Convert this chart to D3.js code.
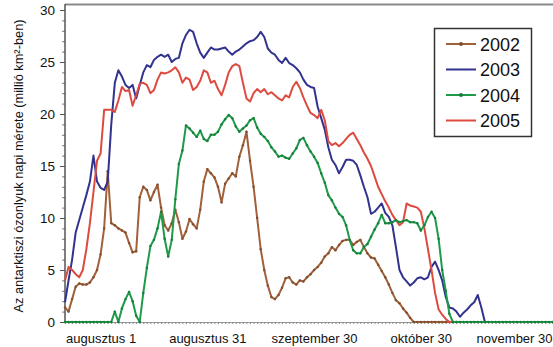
<!DOCTYPE html>
<html>
<head>
<meta charset="utf-8">
<script src="https://cdn.jsdelivr.net/npm/d3@7"></script>
<style>
  body { margin: 0; background: #fff; }
  svg { display: block; }
  text { font-family: "Liberation Sans", Arial, sans-serif; fill: #111; }
</style>
</head>
<body>
<svg id="chart" width="553" height="347"></svg>
<script>
// Daily ozone-hole area (million km²); day 0 = augusztus 1, series start at day -10 (július 22)
const firstDay = -10;
const lastDay = 127;

const area2002 = [
  1.4, 1.0, 2.2, 3.4, 3.7, 3.6, 3.6, 3.8, 4.3, 5.0,
  6.5, 9.0, 14.5, 9.5, 9.3, 9.0, 8.8, 8.6, 7.6, 6.7,
  6.8, 12.0, 13.0, 12.7, 11.7, 12.5, 13.2, 11.0, 9.3, 8.8,
  9.5, 10.8, 9.6, 8.0, 8.7, 9.9, 9.4, 9.0, 10.8, 13.5,
  14.7, 14.3, 13.9, 13.0, 11.5, 13.3, 13.8, 14.3, 14.0, 15.9,
  17.0, 18.3, 15.5, 13.0, 10.0, 7.0, 5.0, 3.5, 2.4, 2.2,
  2.6, 3.3, 4.2, 4.3, 3.8, 3.6, 4.0, 3.9, 4.3, 4.6,
  5.0, 5.3, 5.7, 6.3, 6.6, 7.2, 6.9, 7.4, 7.8, 7.9,
  7.9, 7.4, 7.7, 7.9, 7.2, 6.6, 6.2, 6.1, 5.5, 4.9,
  4.3, 3.6, 2.8, 2.1, 1.8, 1.3, 0.9, 0.4, 0, 0,
  0, 0, 0, 0, 0, 0, 0, 0, 0, 0, 0
];

const area2003 = [
  1.9, 4.0, 6.0, 8.6, 9.8, 11.0, 12.2, 13.5, 16.0, 13.5,
  12.9, 12.7, 13.5, 19.0, 23.0, 24.2, 23.6, 22.8, 22.5, 22.8,
  21.5, 22.8, 24.0, 24.7, 24.5, 25.2, 25.5, 25.7, 25.5, 25.7,
  25.0, 25.3, 25.4, 26.8, 27.6, 28.1, 27.9, 26.8, 25.9, 25.4,
  25.9, 26.4, 26.2, 26.2, 26.3, 26.4, 26.0, 25.7, 26.0, 26.2,
  26.5, 26.8, 27.0, 27.1, 27.4, 27.9, 27.4, 26.3, 25.9, 25.7,
  25.2, 24.9, 25.4, 24.9, 24.7, 24.4, 24.0, 23.3, 22.8, 22.6,
  22.5, 20.7, 19.6, 18.5, 16.8, 15.6, 15.1, 14.3, 14.9, 15.6,
  15.6, 15.5, 15.1, 14.1, 13.0, 12.0, 10.4, 10.6, 11.0, 11.4,
  10.5, 10.1, 9.3, 7.2, 5.0, 4.3, 3.9, 3.5, 3.8, 4.2,
  4.3, 4.1, 4.3, 5.3, 5.8, 5.0, 4.0, 2.4, 1.4, 1.3,
  1.0, 0.5, 0.9, 1.2, 1.6, 1.9, 2.6, 1.4, 0, 0,
  0, 0, 0, 0, 0, 0, 0, 0, 0, 0,
  0, 0, 0, 0, 0, 0, 0, 0
];

const area2004 = [
  0, 0, 0, 0, 0, 0, 0, 0, 0, 0,
  0, 0, 0, 0, 1.0, 0, 1.3, 2.2, 2.9, 2.0,
  0.6, 0, 2.8, 5.2, 7.3, 7.9, 9.0, 10.6, 8.0, 6.3,
  7.9, 11.8, 15.2, 16.5, 18.9, 18.6, 18.2, 17.8, 18.4, 17.6,
  17.4, 18.0, 18.0, 18.3, 19.0, 19.5, 19.9, 19.6, 18.8, 18.3,
  18.6, 18.9, 19.4, 19.6, 18.7, 18.1, 17.8, 17.4, 16.8, 16.4,
  15.9, 16.0, 15.8, 15.7, 16.2, 16.7, 17.5, 17.7, 17.0, 16.4,
  15.9, 15.3, 14.3, 13.4, 12.2, 11.7, 11.0, 10.4, 10.1, 9.3,
  7.9, 6.9, 6.6, 6.6, 7.2, 7.5, 8.2, 8.9, 9.5, 10.3,
  9.5, 9.5, 9.6, 9.8, 9.6, 9.7, 9.8, 9.6, 9.6, 9.5,
  8.8, 9.3, 10.1, 10.6, 10.0, 8.0, 5.0, 3.0, 0.8, 0,
  0, 0, 0, 0, 0, 0, 0, 0, 0, 0,
  0, 0, 0, 0, 0, 0, 0, 0, 0, 0,
  0, 0, 0, 0, 0, 0, 0, 0
];

const area2005 = [
  4.0, 5.3, 5.0, 4.6, 4.3, 5.0, 7.0, 9.5, 12.5, 15.5,
  16.2, 20.4, 20.4, 20.4, 20.2, 21.3, 22.6, 22.2, 22.3, 20.8,
  21.8, 22.9, 23.0, 22.8, 22.0, 22.3, 23.3, 24.0, 23.9, 24.0,
  24.2, 24.5, 24.0, 23.0, 23.5, 23.3, 22.3, 22.6, 23.2, 24.2,
  24.0, 23.0, 23.2, 22.4, 21.8, 22.8, 24.0, 24.6, 24.8, 24.6,
  23.0, 21.5, 21.2, 22.0, 22.4, 22.1, 22.4, 21.9, 22.1, 21.8,
  21.5, 21.3, 21.8, 21.6, 22.6, 23.1, 22.5, 21.6, 20.8, 20.1,
  19.9, 19.6, 20.4, 19.4, 17.4, 17.0, 17.2, 16.9, 17.2, 17.6,
  18.0, 18.2, 17.6, 17.0, 16.3, 15.7, 15.0, 14.0, 13.0, 12.3,
  11.6, 11.0, 10.3, 9.8, 9.3, 9.6, 11.4, 11.2, 11.1, 11.0,
  10.6, 9.0, 7.0, 5.0, 2.8, 1.2, 0.7, 0.3, 0, 0,
  0
];

const seriesNames = ["2002", "2003", "2004", "2005"];
const seriesColors = ["#a0603a", "#32328f", "#1f9a49", "#dd4a3f"];
const seriesMarkers = [true, false, true, false];
const drawOrder = [0, 1, 3, 2];

const tickDays = [0, 30, 60, 90, 121];
const tickLabels = ["augusztus 1", "augusztus 31", "szeptember 30", "október 30", "november 30"];
const yTicks = [0, 5, 10, 15, 20, 25, 30];
const yTitle = "Az antarktiszi ózonlyuk napi mérete (millió km²-ben)";

const allSeries = [area2002, area2003, area2004, area2005];

const W = 553;
const svg = d3.select("#chart");
const x = d3.scaleLinear().domain([firstDay, lastDay]).range([65, 552.5]);
const y = d3.scaleLinear().domain([0, 30]).range([322, 10]);

// frame: top rule
svg.append("line")
  .attr("x1", 65).attr("x2", W).attr("y1", 4.5).attr("y2", 4.5)
  .attr("stroke", "#8a8a8a").attr("stroke-width", 2);

// x axis: daily minor ticks + labelled dates
const xMinor = svg.append("g").attr("transform", `translate(0,${y(0)})`)
  .call(d3.axisBottom(x).tickValues(d3.range(firstDay, lastDay + 1)).tickSize(2).tickFormat(""));
xMinor.select(".domain").attr("stroke", "#9a9a9a").attr("stroke-width", 1.2);
xMinor.selectAll(".tick line").attr("stroke", "#8a8a8a");

const xAxis = svg.append("g").attr("transform", `translate(0,${y(0)})`)
  .call(d3.axisBottom(x).tickValues(tickDays).tickSize(0).tickPadding(12)
    .tickFormat((d, i) => tickLabels[i]));
xAxis.select(".domain").remove();
xAxis.selectAll("text").style("font-size", "13px").attr("fill", "#111");
// keep labels near the right edge inside the drawing
xAxis.selectAll(".tick").each(function (d) {
  const t = d3.select(this).select("text");
  const half = t.node().getComputedTextLength() / 2;
  const overflow = x(d) + half - (W - 1);
  if (overflow > 0) t.attr("x", -overflow);
});

// y axis: unit minor ticks, major every 5
const yMinor = svg.append("g").attr("transform", "translate(65,0)")
  .call(d3.axisLeft(y).tickValues(d3.range(0, 31)).tickSize(3).tickFormat(""));
yMinor.select(".domain").remove();
yMinor.selectAll(".tick line").attr("stroke", "#777");

const yAxis = svg.append("g").attr("transform", "translate(65,0)")
  .call(d3.axisLeft(y).tickValues(yTicks).tickSize(5).tickPadding(5));
yAxis.select(".domain").remove();
yAxis.selectAll(".tick line").attr("stroke", "#555");
yAxis.selectAll("text").style("font-size", "13.5px").attr("fill", "#111");

svg.append("line")
  .attr("x1", 65).attr("x2", 65).attr("y1", 4).attr("y2", y(0) + 1)
  .attr("stroke", "#555").attr("stroke-width", 1.5);

svg.append("text")
  .attr("transform", `translate(23,${(y(0) + 10) / 2}) rotate(-90)`)
  .attr("text-anchor", "middle")
  .style("font-size", "12.8px")
  .text(yTitle);

// series lines
const line = d3.line()
  .x((d, i) => x(firstDay + i))
  .y(d => y(d));

drawOrder.forEach(k => {
  const data = allSeries[k];
  svg.append("path")
    .datum(data)
    .attr("fill", "none")
    .attr("stroke", seriesColors[k])
    .attr("stroke-width", 2)
    .attr("stroke-linejoin", "round")
    .attr("d", line);
  if (seriesMarkers[k]) {
    svg.append("g").selectAll("circle")
      .data(data)
      .join("circle")
      .attr("cx", (d, i) => x(firstDay + i))
      .attr("cy", d => y(d))
      .attr("r", 1.2)
      .attr("fill", d3.color(seriesColors[k]).darker(0.6));
  }
});

// legend
const legend = svg.append("g");
legend.append("rect")
  .attr("x", 434.5).attr("y", 28.5).attr("width", 97).attr("height", 108)
  .attr("fill", "#fff").attr("stroke", "#333").attr("stroke-width", 1.5);
seriesNames.forEach((name, i) => {
  const ly = 44 + i * 25.5;
  legend.append("line")
    .attr("x1", 446).attr("x2", 476).attr("y1", ly).attr("y2", ly)
    .attr("stroke", seriesColors[i]).attr("stroke-width", 2);
  if (seriesMarkers[i]) {
    legend.append("circle").attr("cx", 461).attr("cy", ly).attr("r", 2)
      .attr("fill", d3.color(seriesColors[i]).darker(0.6));
  }
  legend.append("text")
    .attr("x", 480).attr("y", ly + 6.5)
    .style("font-size", "18px")
    .text(name);
});
</script>
</body>
</html>
